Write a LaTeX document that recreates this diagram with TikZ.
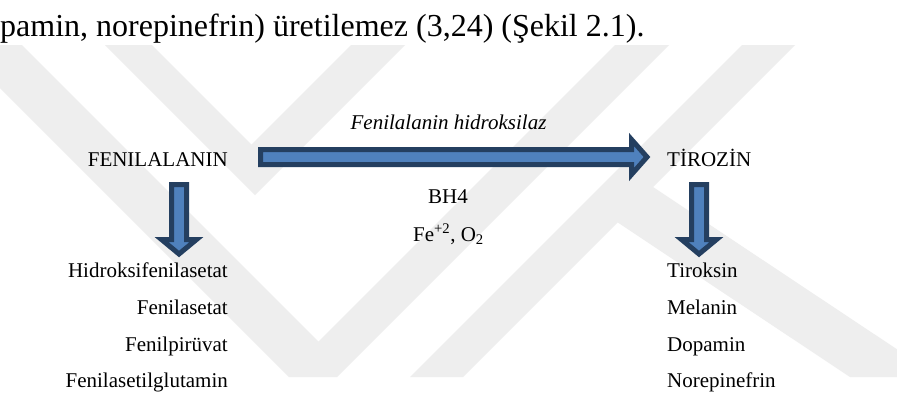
\documentclass[tikz,border=0pt]{standalone}
\usepackage{fontspec}
\setmainfont{Liberation Serif}
\usetikzlibrary{calc}
\definecolor{arrowfill}{RGB}{79,129,189}
\definecolor{arrowline}{RGB}{36,63,96}
\definecolor{wmgray}{RGB}{238,238,238}
\begin{document}
\begin{tikzpicture}[x=1pt,y=-1pt,
  txt/.style={font=\fontsize{21}{25}\selectfont, inner sep=0pt},
  toptxt/.style={font=\fontsize{32}{36}\selectfont, inner sep=0pt},
  fat/.style={draw=arrowline, fill=arrowfill, line width=5pt, line join=miter},
  wm/.style={fill=wmgray, draw=none}]
\useasboundingbox (0,0) rectangle (897,394);
\fill[white] (0,0) rectangle (897,394);
% watermark
\fill[wm] (0,88) -- (0,45) -- (22,45) -- (318.5,341.5) -- (615,45) -- (669,45) -- (337,377) -- (289,377) -- cycle;
\fill[wm] (105,45) -- (152,45) -- (251.5,144.5) -- (351,45) -- (405,45) -- (255,195) -- cycle;
\fill[wm] (410,377) -- (742,45) -- (795,45) -- (653,187) -- (897,349.3) -- (897,377) -- (850,377) -- (617.6,222.4) -- (463,377) -- cycle;
% texts
\node[toptxt, anchor=base west] (top) at (0,36) {pamin, norepinefrin) üretilemez (3,24) (Şekil 2.1).};
\node[txt, anchor=base east] (fen) at (228,166) {FENILALANIN};
\node[txt, anchor=base west] (tir) at (667,166) {TİROZİN};
\node[txt, anchor=base] (enz) at (448.5,129) {\itshape Fenilalanin hidroksilaz};
\node[txt, anchor=base] (bh) at (448,203) {BH4};
\node[txt, anchor=base] (fe) at (448.5,241) {Fe\textsuperscript{+2}, O\textsubscript{2}};
\node[txt, anchor=base east] (l1) at (228,277) {Hidroksifenilasetat};
\node[txt, anchor=base east] (l2) at (228,314) {Fenilasetat};
\node[txt, anchor=base east] (l3) at (228,351) {Fenilpirüvat};
\node[txt, anchor=base east] (l4) at (228,387) {Fenilasetilglutamin};
\node[txt, anchor=base west] (r1) at (667,277) {Tiroksin};
\node[txt, anchor=base west] (r2) at (667,314) {Melanin};
\node[txt, anchor=base west] (r3) at (667,351) {Dopamin};
\node[txt, anchor=base west] (r4) at (667,387) {Norepinefrin};
% block arrows
\coordinate (h0) at (260.5,157);
\coordinate (h1) at (647,157);
\draw[fat] ($(h0)+(0,-7.5)$) -- ($(h1)+(-15.5,-7.5)$) -- ($(h1)+(-15.5,-17.5)$) -- (h1)
  -- ($(h1)+(-15.5,17.5)$) -- ($(h1)+(-15.5,7.5)$) -- ($(h0)+(0,7.5)$) -- cycle;
\coordinate (a0) at (179,184.5);
\coordinate (a1) at (179,254);
\draw[fat] ($(a0)+(-7.5,0)$) -- ($(a1)+(-7.5,-14.5)$) -- ($(a1)+(-17.5,-14.5)$) -- (a1)
  -- ($(a1)+(17.5,-14.5)$) -- ($(a1)+(7.5,-14.5)$) -- ($(a0)+(7.5,0)$) -- cycle;
\coordinate (b0) at (699,184.5);
\coordinate (b1) at (699,254);
\draw[fat] ($(b0)+(-7.5,0)$) -- ($(b1)+(-7.5,-14.5)$) -- ($(b1)+(-17.5,-14.5)$) -- (b1)
  -- ($(b1)+(17.5,-14.5)$) -- ($(b1)+(7.5,-14.5)$) -- ($(b0)+(7.5,0)$) -- cycle;
\end{tikzpicture}
\end{document}
